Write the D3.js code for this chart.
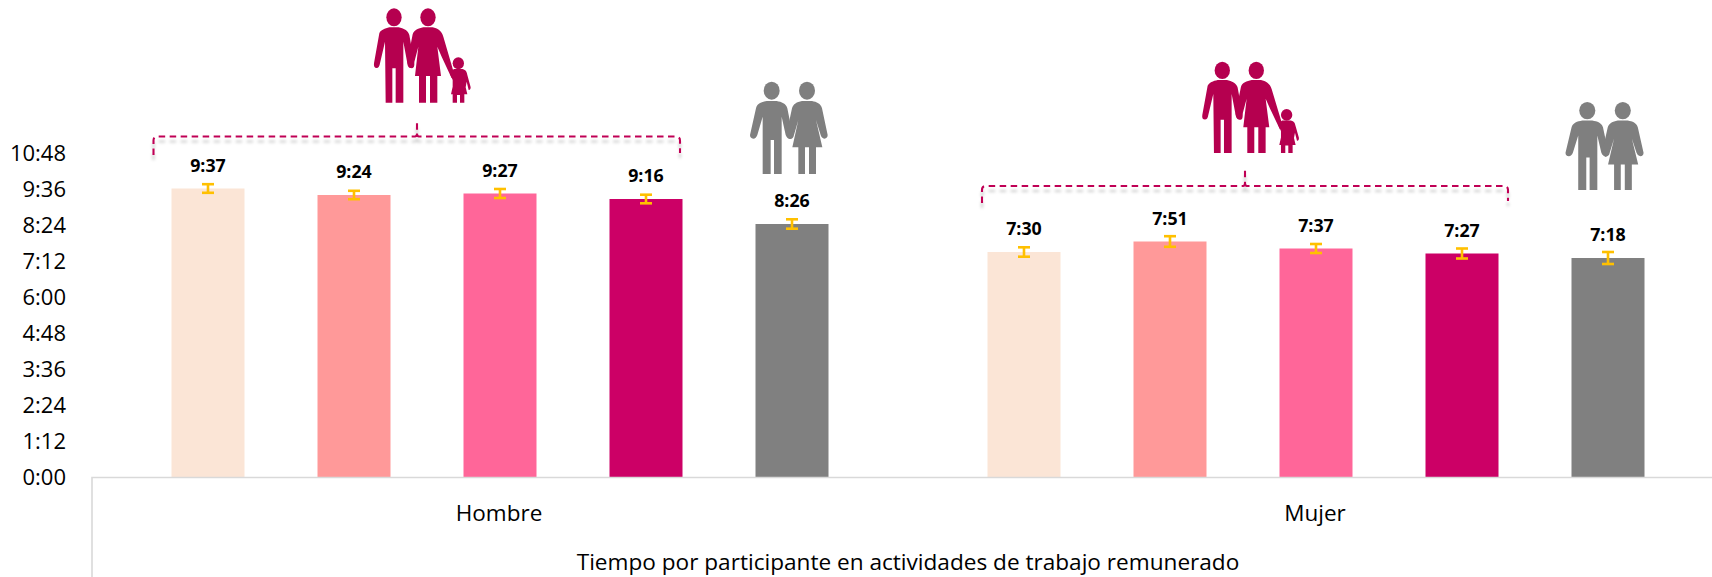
<!DOCTYPE html>
<html><head><meta charset="utf-8">
<script src="https://cdnjs.cloudflare.com/ajax/libs/d3/7.8.5/d3.min.js"></script>
<style>html,body{margin:0;padding:0;background:#fff;overflow:hidden}svg{display:block}text{font-family:"Open Sans",sans-serif}</style>
</head><body><div id="c"></div>
<script>
const groups = ["Hombre","Mujer"];
const seriesNames = ["a","b","c","d","e"];
const labels = [["9:37","9:24","9:27","9:16","8:26"],["7:30","7:51","7:37","7:27","7:18"]];
const errors = [[8.6,8.4,9,8.6,9.4],[9.4,10.6,9,10,12]];
const colors = ["#FBE5D6","#FF9999","#FF6699","#CC0066","#808080"];
const yTicks = [0,72,144,216,288,360,432,504,576,648];
const axisTitle = "Tiempo por participante en actividades de trabajo remunerado";

const W=1712,H=577;
const toMin=s=>{const [h,m]=s.split(":").map(Number);return h*60+m;};
const fmt=m=>Math.floor(m/60)+":"+String(m%60).padStart(2,"0");
const svg=d3.select("#c").append("svg").attr("width",W).attr("height",H);
const defs=svg.append("defs");
const f=defs.append("filter").attr("id","sh").attr("x","-5%").attr("y","-50%").attr("width","110%").attr("height","250%");
f.append("feDropShadow").attr("dx",0).attr("dy",5).attr("stdDeviation",1.8).attr("flood-color","#000").attr("flood-opacity",0.2);

const x0=d3.scaleBand().domain(groups).range([92,1724]);
const x1=d3.scaleBand().domain(seriesNames).range([0,x0.bandwidth()]).paddingInner(.5).paddingOuter(.5445);
const y=d3.scaleLinear().domain([0,648]).range([477,153]);

// y axis
const yAxis=d3.axisLeft(y).tickValues(yTicks).tickFormat(fmt).tickSize(0).tickPadding(0);
const ya=svg.append("g").attr("transform","translate(66,0)").call(yAxis);
ya.select(".domain").remove();
ya.selectAll("text").attr("font-size",22).attr("fill","#000").attr("font-family","'Open Sans',sans-serif");

// bars
groups.forEach((g,i)=>{
  const gg=svg.append("g").attr("transform",`translate(${x0(g)},0)`);
  const rows=seriesNames.map((s,j)=>({s,j,v:toMin(labels[i][j]),e:errors[i][j],l:labels[i][j]}));
  gg.selectAll("rect").data(rows).join("rect")
    .attr("x",d=>x1(d.s)).attr("width",x1.bandwidth())
    .attr("y",d=>y(d.v)).attr("height",d=>y(0)-y(d.v)).attr("fill",d=>colors[d.j]);
  const eb=gg.selectAll("g.e").data(rows).join("g").attr("class","e")
    .attr("transform",d=>`translate(${x1(d.s)+x1.bandwidth()/2},0)`)
    .attr("stroke","#FFC000").attr("stroke-width",2.6).attr("fill","none");
  eb.append("line").attr("y1",d=>y(d.v+d.e)).attr("y2",d=>y(d.v-d.e));
  eb.append("line").attr("x1",-6).attr("x2",6).attr("y1",d=>y(d.v+d.e)).attr("y2",d=>y(d.v+d.e));
  eb.append("line").attr("x1",-6).attr("x2",6).attr("y1",d=>y(d.v-d.e)).attr("y2",d=>y(d.v-d.e));
  gg.selectAll("text.l").data(rows).join("text").attr("class","l")
    .attr("x",d=>x1(d.s)+x1.bandwidth()/2).attr("y",d=>y(d.v)-23)
    .attr("dy",".35em").attr("text-anchor","middle").attr("font-size",17.8).attr("font-weight",700).attr("fill","#000")
    .text(d=>d.l);
  svg.append("text").attr("x",x0(g)+x0.bandwidth()/2-1).attr("y",513).attr("dy",".35em").attr("text-anchor","middle")
    .attr("font-size",22.5).attr("fill","#000").text(g);
});
// category axis lines
svg.append("path").attr("d",`M92,577V477.5H${W}`).attr("fill","none").attr("stroke","#D9D9D9").attr("stroke-width",1.6);
svg.append("text").attr("x",908).attr("y",562).attr("dy",".35em").attr("text-anchor","middle").attr("font-size",22.6).attr("fill","#000").text(axisTitle);

// brackets
function bracket(l,r,cx,top,ly,ry,tip){
  const p=`M${l},${ly}V${top+4}Q${l},${top} ${l+4},${top}H${cx-2}Q${cx},${top} ${cx},${top-3}V${tip}M${cx},${top-3}Q${cx},${top} ${cx+2},${top}H${r-4}Q${r},${top} ${r},${top+4}V${ry}`;
  svg.append("path").attr("d",p).attr("fill","none").attr("stroke","#C00055").attr("stroke-width",2.1)
    .attr("stroke-dasharray","6.5 4.5").attr("filter","url(#sh)");
}
bracket(153.5,680,417,136.5,155,153,121.5);
bracket(982,1508,1245,186,203,201,170.5);

// pictograms
const familyShapes=[
 "M118,82 C105,85 92,90 88,100 L72,190 Q70,204 80,204 Q88,204 90,190 L105,125 L107,308 L127,308 L127,205 L137,205 L137,308 L160,308 L160,125 L172,190 Q178,205 186,205 Q194,204 193,190 L178,105 C175,92 160,85 146,82 Z",
 "M220,82 C205,85 192,90 188,103 L172,185 Q172,204 182,204 Q190,204 192,190 L205,140 L195,228 L207,228 L207,308 L228,308 L228,228 L240,228 L240,308 L262,308 L262,228 L273,228 L262,140 L275,170 L305,235 L312,220 L280,110 C275,92 262,85 248,82 Z",
 "M312,207 L338,207 C348,210 350,215 352,225 L362,262 Q362,272 356,270 L350,245 L347,262 L352,283 L343,283 L343,308 L330,308 L330,285 L321,285 L321,308 L308,308 L308,283 L303,283 L308,260 L308,240 L300,222 L305,212 Z"
];
const familyHeads=[[132,52,23,27],[234,52,23,27],[325,190,17,18]];
const coupleShapes=[
 "M110,93 C95,96 82,100 78,115 L60,195 Q60,205 70,206 Q78,206 82,195 L98,140 L98,312 L122,312 L122,210 L132,210 L132,312 L155,312 L155,140 L167,195 Q172,207 180,207 Q188,205 188,195 L172,115 C168,100 155,96 140,93 Z",
 "M216,93 C200,96 190,102 186,115 L170,190 Q172,205 180,207 Q190,207 192,195 L205,150 L187,232 L205,232 L205,312 L225,312 L225,232 L237,232 L237,312 L258,312 L258,232 L277,232 L258,150 L272,195 Q275,205 283,206 Q293,205 293,195 L276,115 C272,100 260,96 246,93 Z"
];
const coupleHeads=[[125,62,24,27],[231,62,24,27]];
function icon(tx,ty,sx,sy,col,shapes,heads){
  const g=svg.append("g").attr("transform",`translate(${tx},${ty}) scale(${sx},${sy})`).attr("fill",col);
  g.selectAll("path").data(shapes).join("path").attr("d",d=>d);
  g.selectAll("ellipse").data(heads).join("ellipse")
    .attr("cx",d=>d[0]).attr("cy",d=>d[1]).attr("rx",d=>d[2]).attr("ry",d=>d[3]);
}
const famCol="#B5004F",grayCol="#7F7F7F";
icon(350,0,1/3,1/3,famCol,familyShapes,familyHeads);
icon(730,70,1/3,1/3,grayCol,coupleShapes,coupleHeads);
icon(1178.3,53.6,1/3,.3226,famCol,familyShapes,familyHeads);
icon(1545.4,90.9,.335,.3177,grayCol,coupleShapes,coupleHeads);
</script></body></html>
